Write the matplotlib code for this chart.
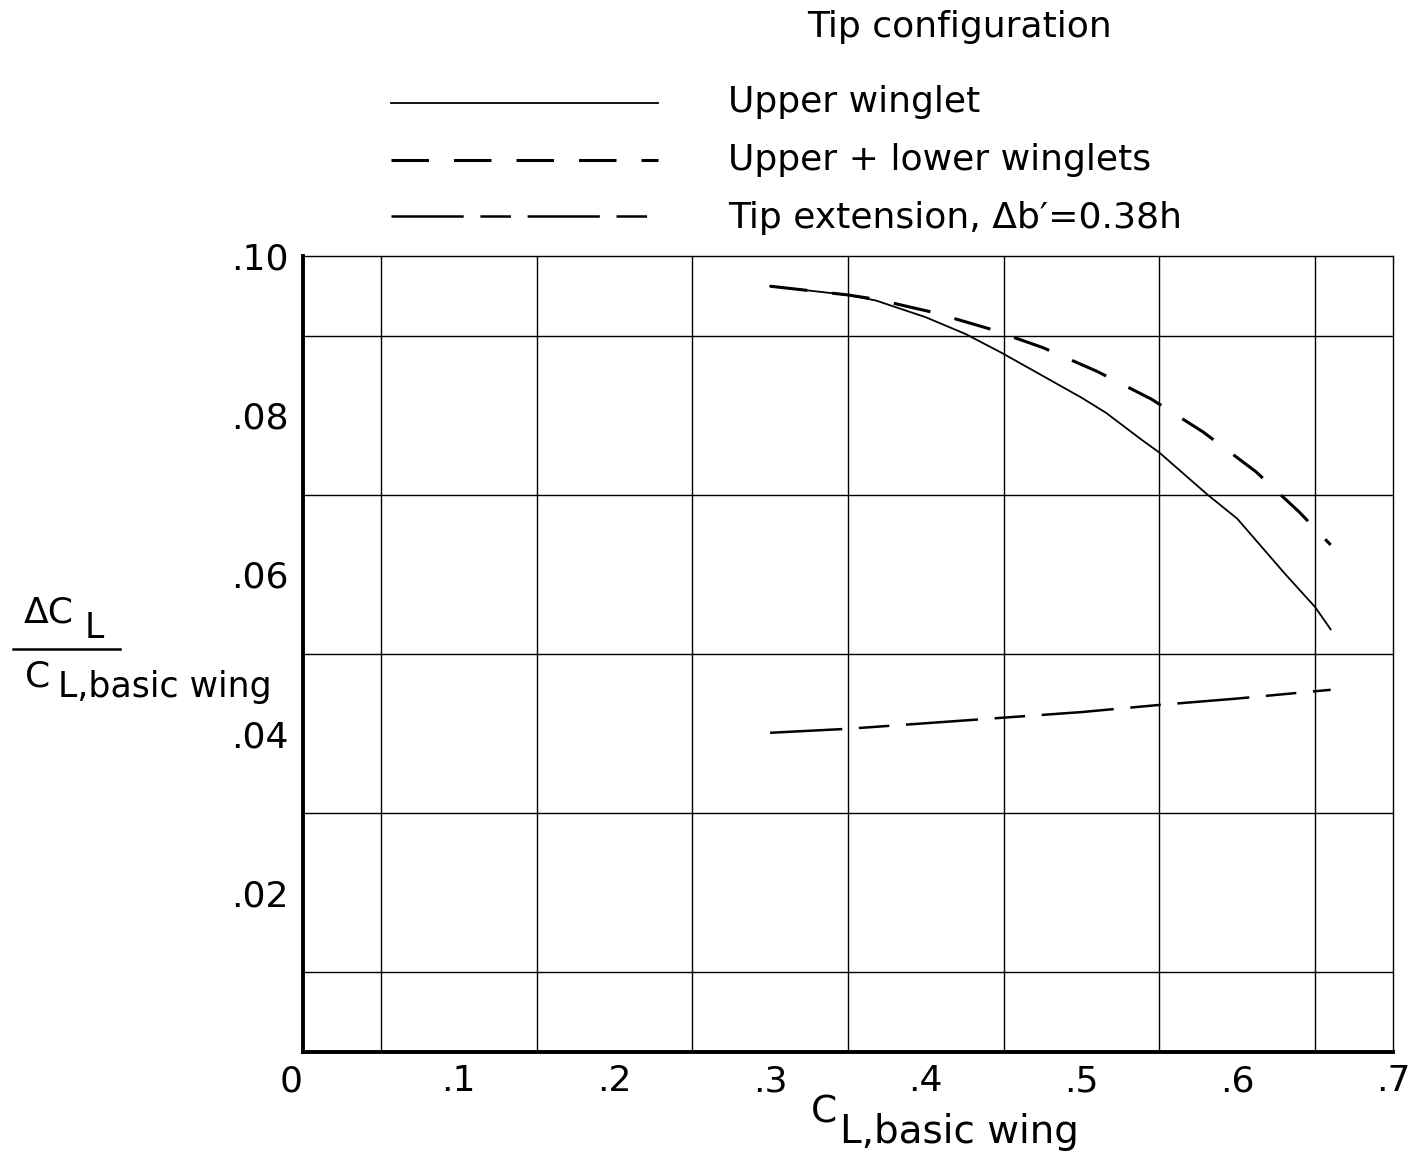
import matplotlib
matplotlib.use("Agg")
import matplotlib.pyplot as plt
from matplotlib.lines import Line2D
import numpy as np

plt.rcParams['font.family'] = ['DejaVu Sans']
plt.rcParams['lines.scale_dashes'] = False

# upper winglet (solid)
x_up = [0.30, 0.35, 0.368, 0.40, 0.4255, 0.449, 0.50, 0.5157, 0.538, 0.55, 0.581, 0.60, 0.631, 0.65, 0.66]
y_up = [0.0962, 0.0951, 0.0944, 0.0923, 0.0902, 0.0878, 0.0822, 0.0803, 0.0770, 0.0753, 0.0700, 0.0670, 0.0600, 0.0559, 0.0531]
# upper + lower winglets (dashed)
x_ul = [0.30, 0.35, 0.37, 0.385, 0.405, 0.44, 0.475, 0.51, 0.545, 0.578, 0.612, 0.640, 0.660]
y_ul = [0.0962, 0.0951, 0.0945, 0.0938, 0.0929, 0.0909, 0.0885, 0.0855, 0.0820, 0.0779, 0.0729, 0.0678, 0.0637]
# tip extension (long-short dash)
x_te = [0.30, 0.35, 0.40, 0.45, 0.50, 0.55, 0.60, 0.66]
y_te = [0.0401, 0.0406, 0.0413, 0.0420, 0.0427, 0.0436, 0.0444, 0.0455]

xticks = [0, 0.1, 0.2, 0.3, 0.4, 0.5, 0.6, 0.7]
xlabels = ['0', '.1', '.2', '.3', '.4', '.5', '.6', '.7']
yticks = [0.02, 0.04, 0.06, 0.08, 0.10]
ylabels = ['.02', '.04', '.06', '.08', '.10']

legend_title = 'Tip configuration'
legend_names = ['Upper winglet', 'Upper + lower winglets', 'Tip extension, \u0394b\u2032=0.38h']

dash_ul = (0, (27, 18))
dash_te = (0, (52, 12, 22, 12))

fig = plt.figure(figsize=(14.15, 11.54), dpi=100)
ax = fig.add_axes([0.2141, 0.0884, 0.7703, 0.6898])

ax.set_xlim(0, 0.7)
ax.set_ylim(0, 0.10)
ax.set_xticks(np.arange(0, 0.701, 0.05), minor=True)
ax.set_yticks(np.arange(0, 0.1001, 0.01), minor=True)
ax.grid(which='minor', color='black', lw=1.0)
ax.set_xticks(xticks)
ax.set_xticklabels(xlabels, fontsize=26)
ax.set_yticks(yticks)
ax.set_yticklabels(ylabels, fontsize=26)
ax.xaxis.get_majorticklabels()[0].set_horizontalalignment('right')
ax.tick_params(which='both', length=0)
ax.tick_params(axis='x', pad=9)
ax.tick_params(axis='y', pad=10)
for s in ['left', 'bottom']:
    ax.spines[s].set_linewidth(2.8)
for s in ['top', 'right']:
    ax.spines[s].set_linewidth(1.0)

ax.plot(x_up, y_up, color='black', lw=1.3)
ax.plot(x_ul, y_ul, color='black', lw=2.2, linestyle=dash_ul)
ax.plot(x_te, y_te, color='black', lw=1.8, linestyle=dash_te)

# x label
fig.text(0.573, 0.0269, 'C', fontsize=27, ha='left', va='baseline')
fig.text(0.5936, 0.0095, 'L,basic wing', fontsize=28, ha='left', va='baseline')

# y label as a fraction
fig.text(0.017, 0.461, '\u0394C', fontsize=26, ha='left', va='baseline')
fig.text(0.060, 0.447, 'L', fontsize=25, ha='left', va='baseline')
fig.add_artist(Line2D([0.009, 0.085], [0.4376, 0.4376], color='black', lw=1.8))
fig.text(0.018, 0.4047, 'C', fontsize=26, ha='left', va='baseline')
fig.text(0.041, 0.396, 'L,basic wing', fontsize=25, ha='left', va='baseline')

# legend
fig.text(0.678, 0.968, legend_title, fontsize=26, ha='center', va='baseline')
styles = ['-', dash_ul, dash_te]
widths = [1.3, 2.2, 1.8]
line_ys = [0.9107, 0.8614, 0.8128]
text_ys = [0.9029, 0.8527, 0.8024]
for name, st, w, ly, ty in zip(legend_names, styles, widths, line_ys, text_ys):
    fig.add_artist(Line2D([0.276, 0.465], [ly, ly], color='black', lw=w, linestyle=st))
    fig.text(0.5145, ty, name, fontsize=26, ha='left', va='baseline')

fig.savefig('out.png', dpi=100)
